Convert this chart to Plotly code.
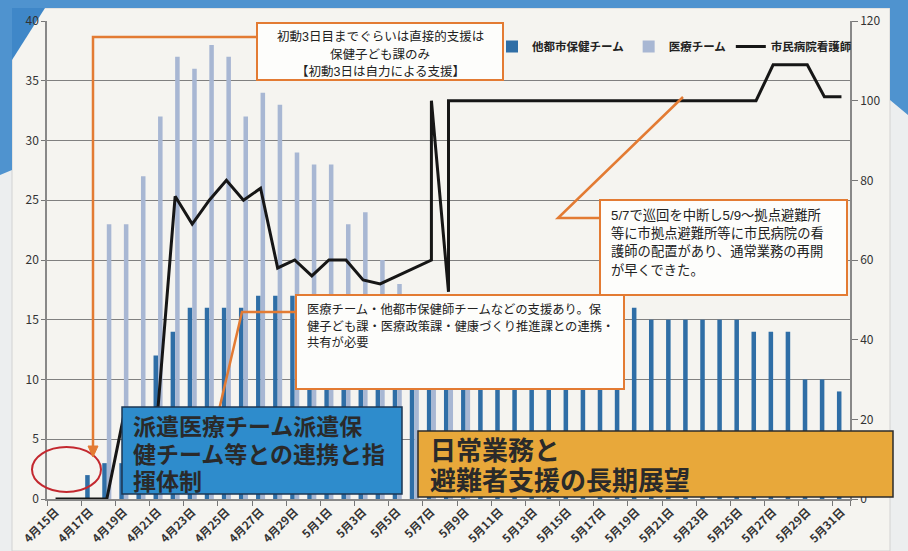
import plotly.graph_objects as go

# ---------------- data ----------------
dates = ["4月15日", "4月16日", "4月17日", "4月18日", "4月19日", "4月20日", "4月21日", "4月22日",
         "4月23日", "4月24日", "4月25日", "4月26日", "4月27日", "4月28日", "4月29日", "4月30日",
         "5月1日", "5月2日", "5月3日", "5月4日", "5月5日", "5月6日", "5月7日", "5月8日",
         "5月9日", "5月10日", "5月11日", "5月12日", "5月13日", "5月14日", "5月15日", "5月16日",
         "5月17日", "5月18日", "5月19日", "5月20日", "5月21日", "5月22日", "5月23日", "5月24日",
         "5月25日", "5月26日", "5月27日", "5月28日", "5月29日", "5月30日", "5月31日"]

# 他都市保健チーム (left axis)
other_city_team = [0, 0, 2, 3, 3, 6, 12, 14, 16, 16, 16, 16, 17, 17, 17, 17,
                   17, 16, 16, 16, 15, 15, 15, 15, 15, 15, 15, 15, 15, 15, 15, 15,
                   15, 15, 16, 15, 15, 15, 15, 15, 15, 14, 14, 14, 10, 10, 9]

# 医療チーム (left axis)
medical_team = [0, 0, 0, 23, 23, 27, 32, 37, 36, 38, 37, 32, 34, 33, 29, 28,
                28, 23, 24, 20, 18, 14, 12, 12, 11, None, None, None, None, None, None, None,
                None, None, None, None, None, None, None, None, None, None, None, None, None, None, None]

# 市民病院看護師 (right axis)
nurse_x = ["4月15日", "4月16日", "4月17日", "4月18日", "4月19日", "4月20日", "4月21日", "4月22日",
           "4月23日", "4月24日", "4月25日", "4月26日", "4月27日", "4月28日", "4月29日", "4月30日",
           "5月1日", "5月2日", "5月3日", "5月4日", "5月5日", "5月6日", "5月7日", "5月7日",
           "5月8日", "5月8日", "5月9日", "5月10日", "5月11日", "5月12日", "5月13日", "5月14日",
           "5月15日", "5月16日", "5月17日", "5月18日", "5月19日", "5月20日", "5月21日", "5月22日",
           "5月23日", "5月24日", "5月25日", "5月26日", "5月27日", "5月28日", "5月29日", "5月30日",
           "5月31日"]
nurse_y = [0, 0, 0, 0, 21, 22, 23, 76, 69, 75, 80, 75, 78, 58, 60, 56,
           60, 60, 55, 54, 56, 58, 60, 100, 52, 100, 100, 100, 100, 100, 100, 100,
           100, 100, 100, 100, 100, 100, 100, 100, 100, 100, 100, 100, 109, 109, 109, 101,
           101]

tick_dates = dates[::2]

note_initial = ["初動3日目までぐらいは直接的支援は", "保健子ども課のみ", "【初動3日は自力による支援】"]
note_support = ["医療チーム・他都市保健師チームなどの支援あり。保",
                "健子ども課・医療政策課・健康づくり推進課との連携・", "共有が必要"]
note_nurse = ["5/7で巡回を中断し5/9～拠点避難所", "等に市拠点避難所等に市民病院の看",
              "護師の配置があり、通常業務の再開", "が早くできた。"]
head_blue = ["派遣医療チーム派遣保", "健チーム等との連携と指", "揮体制"]
head_orange = ["日常業務と", "避難者支援の長期展望"]

# ---------------- geometry helpers (pixel -> paper) ----------------
W, H = 908, 551
ML, MR, MT, MB = 47, 58, 21, 52
PW, PH = W - ML - MR, H - MT - MB


def X(px):
    return (px - ML) / PW


def Y(py):
    return (H - MB - py) / PH


FONT = "Noto Sans CJK JP"
TFONT = "Liberation Sans, Noto Sans CJK JP"
ORANGE = "#e37b33"

fig = go.Figure()
fig.add_trace(go.Bar(x=dates, y=other_city_team, name="他都市保健チーム",
                     marker=dict(color="#2f6ea6", line=dict(width=0))))
fig.add_trace(go.Bar(x=dates, y=medical_team, name="医療チーム",
                     marker=dict(color="#a8b7d3", line=dict(width=0))))
fig.add_trace(go.Scatter(x=nurse_x, y=nurse_y, name="市民病院看護師", yaxis="y2",
                         mode="lines", line=dict(color="#161616", width=3)))

shapes = []
# background decorations (scanned page)
shapes.append(dict(type="rect", xref="paper", yref="paper", x0=X(12), x1=X(890), y0=Y(551), y1=Y(8),
                   fillcolor="#f5f4f0", line=dict(color="#d2d2d2", width=1), layer="below"))
shapes.append(dict(type="path", xref="paper", yref="paper", layer="below",
                   path=f"M{X(0)},{Y(0)} L{X(908)},{Y(0)} L{X(908)},{Y(115)} L{X(890)},{Y(100)} "
                        f"L{X(890)},{Y(8)} L{X(12)},{Y(8)} L{X(12)},{Y(170)} L{X(0)},{Y(175)} Z",
                   fillcolor="#4f93cf", line=dict(width=0)))
shapes.append(dict(type="path", xref="paper", yref="paper", layer="below",
                   path=f"M{X(12)},{Y(8)} L{X(45)},{Y(8)} L{X(12)},{Y(60)} Z",
                   fillcolor="#3f87c8", line=dict(width=0)))

# red ellipse
shapes.append(dict(type="circle", xref="paper", yref="paper", x0=X(32), x1=X(101), y0=Y(492), y1=Y(447),
                   line=dict(color="#c3282f", width=2)))

# connector 1 (初動) with arrowhead
shapes.append(dict(type="path", xref="paper", yref="paper",
                   path=f"M{X(257)},{Y(37)} L{X(93)},{Y(37)} L{X(93)},{Y(448)}",
                   line=dict(color=ORANGE, width=2.5)))
shapes.append(dict(type="path", xref="paper", yref="paper",
                   path=f"M{X(88)},{Y(446)} L{X(98)},{Y(446)} L{X(93)},{Y(457)} Z",
                   fillcolor=ORANGE, line=dict(color=ORANGE, width=1)))

# connector 2 (医療チーム box)
shapes.append(dict(type="path", xref="paper", yref="paper",
                   path=f"M{X(297)},{Y(312)} L{X(242)},{Y(312)} L{X(219)},{Y(410)}",
                   line=dict(color=ORANGE, width=2.5)))
# connector 3 (5/7 box)
shapes.append(dict(type="path", xref="paper", yref="paper",
                   path=f"M{X(601)},{Y(218)} L{X(558)},{Y(218)} L{X(683)},{Y(97)}",
                   line=dict(color=ORANGE, width=2.5)))

# white callout boxes
for (x0, y0, x1, y1) in [(257, 23, 503, 80), (296, 295, 624, 389), (600, 200, 847, 295)]:
    shapes.append(dict(type="rect", xref="paper", yref="paper", x0=X(x0), x1=X(x1), y0=Y(y1), y1=Y(y0),
                       fillcolor="#fdfdfb", line=dict(color=ORANGE, width=2)))

# blue and orange headline boxes
shapes.append(dict(type="rect", xref="paper", yref="paper", x0=X(122), x1=X(402), y0=Y(494), y1=Y(407),
                   fillcolor="#2e8ccc", line=dict(color="#1d3652", width=1.5)))
shapes.append(dict(type="rect", xref="paper", yref="paper", x0=X(418), x1=X(893), y0=Y(497), y1=Y(431),
                   fillcolor="#e8a83a", line=dict(color="#2b2b2b", width=1.5)))

annotations = []


def add_lines(lines, px, pys, anchor, size, weight=400, color="#222"):
    for line, py in zip(lines, pys):
        annotations.append(dict(xref="paper", yref="paper", x=X(px), y=Y(py), xanchor=anchor,
                                yanchor="middle", text=line, showarrow=False,
                                font=dict(family=TFONT, size=size, color=color, weight=weight)))


add_lines(note_initial, 380, [37, 55, 72], "center", 12.5)
add_lines(note_support, 305, [310, 326, 342], "left", 12.3)
add_lines(note_nurse, 609, [215, 233, 251, 270], "left", 13.3)
add_lines(head_blue, 131, [427, 455, 482], "left", 23, 700, "#2a2a2a")
add_lines(head_orange, 428, [451, 481], "left", 26, 700, "#2a2a2a")

fig.update_layout(
    width=W, height=H,
    margin=dict(l=ML, r=MR, t=MT, b=MB, autoexpand=False),
    paper_bgcolor="#eceeef",
    plot_bgcolor="rgba(0,0,0,0)",
    barmode="group", bargap=0.47, bargroupgap=0.0,
    font=dict(family=FONT, color="#333"),
    showlegend=True,
    legend=dict(orientation="h", x=X(492), y=Y(32), xanchor="left", yanchor="top",
                bgcolor="rgba(0,0,0,0)", font=dict(family=FONT, size=11.5, color="#222", weight=700),
                itemwidth=30, tracegroupgap=0),
    xaxis=dict(type="category", categoryorder="array", categoryarray=dates,
               range=[-0.5, len(dates) - 0.5], automargin=False,
               tickmode="array", tickvals=tick_dates, ticktext=tick_dates, tickson="boundaries",
               ticks="outside", ticklen=5, tickcolor="#777", tickangle=-45,
               tickfont=dict(family=FONT, size=11.5, color="#333", weight=700),
               showgrid=False, showline=True, linecolor="#888", linewidth=1.5, zeroline=False),
    yaxis=dict(range=[0, 40], dtick=5, showgrid=True, gridcolor="#808080", gridwidth=1.3,
               automargin=False,
               ticks="outside", ticklen=4, tickcolor="#777", showline=True, linecolor="#888",
               linewidth=1.5, zeroline=False,
               tickfont=dict(family=FONT, size=12, color="#333")),
    yaxis2=dict(range=[0, 120], dtick=20, overlaying="y", side="right", showgrid=False,
                automargin=False,
                ticks="outside", ticklen=6, tickcolor="#777", showline=True, linecolor="#888",
                linewidth=1.5, zeroline=False,
                tickfont=dict(family=FONT, size=12, color="#333")),
    shapes=shapes,
    annotations=annotations,
)

fig.write_html("out.html")
